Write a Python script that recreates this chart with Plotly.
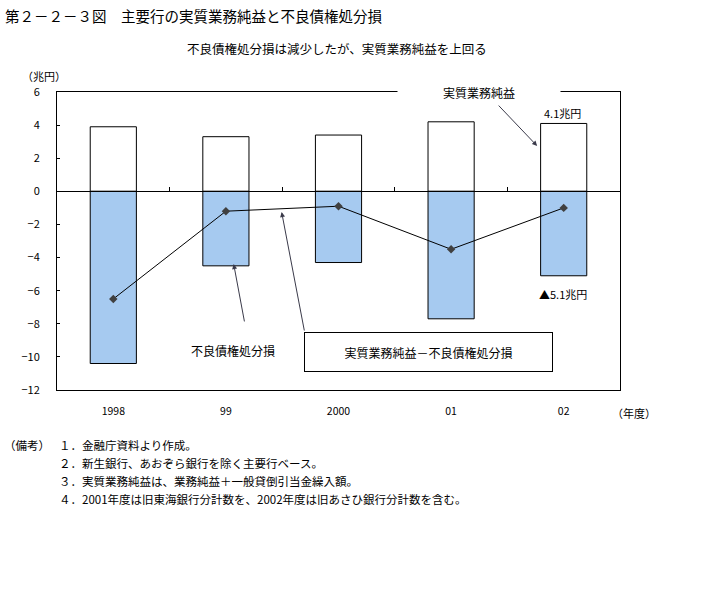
import plotly.graph_objects as go

# ---- data ----
years = ["1998", "99", "2000", "01", "02"]
jisshitsu_gyomu_junneki = [3.9, 3.3, 3.4, 4.2, 4.1]      # 実質業務純益 (兆円)
furyo_saiken_shobunson = [-10.4, -4.5, -4.3, -7.7, -5.1]  # 不良債権処分損 (兆円)
difference = [-6.5, -1.2, -0.9, -3.5, -1.0]              # 実質業務純益－不良債権処分損
y_ticks = [6, 4, 2, 0, -2, -4, -6, -8, -10, -12]

FONT = "Noto Sans CJK JP"
xs = list(range(len(years)))

fig = go.Figure()
fig.add_trace(go.Bar(
    x=xs, y=jisshitsu_gyomu_junneki, width=0.41,
    marker=dict(color="white", line=dict(color="black", width=1)),
    showlegend=False, hoverinfo="skip"))
fig.add_trace(go.Bar(
    x=xs, y=furyo_saiken_shobunson, width=0.41,
    marker=dict(color="#A6CAF0", line=dict(color="black", width=1)),
    showlegend=False, hoverinfo="skip"))
fig.add_trace(go.Scatter(
    x=xs, y=difference, xaxis="x2", mode="lines+markers",
    line=dict(color="black", width=1),
    marker=dict(symbol="diamond", size=6.5, color="#404040"),
    showlegend=False, hoverinfo="skip"))

ann = []
def A(text, x, y, xref="x", yref="y", size=12, xanchor="center", **kw):
    d = dict(text=text, x=x, y=y, xref=xref, yref=yref, showarrow=False,
             font=dict(family=FONT, size=size, color="black"),
             xanchor=xanchor, yanchor="middle")
    d.update(kw)
    ann.append(d)

def px2xp(px):
    return (px - 57) / 563.0

def py2yp(py):
    return (390 - py) / 298.0

# titles and notes
A("第２－２－３図　主要行の実質業務純益と不良債権処分損", px2xp(3), py2yp(15), "paper", "paper", size=14.5, xanchor="left")
A("不良債権処分損は減少したが、実質業務純益を上回る", px2xp(337), py2yp(48), "paper", "paper", size=12.5)
A("（兆円）", px2xp(44), py2yp(76), "paper", "paper", size=11)
A("（年度）", px2xp(634), py2yp(413), "paper", "paper", size=11)
A("（備考）", px2xp(2), py2yp(445), "paper", "paper", size=11.5, xanchor="left")
notes = ["１．金融庁資料より作成。",
         "２．新生銀行、あおぞら銀行を除く主要行ベース。",
         "３．実質業務純益は、業務純益＋一般貸倒引当金繰入額。",
         "４．2001年度は旧東海銀行分計数を、2002年度は旧あさひ銀行分計数を含む。"]
for i, t in enumerate(notes):
    A(t, px2xp(57), py2yp(445 + i * 18), "paper", "paper", size=11.5, xanchor="left")

# chart callouts
A("実質業務純益", 3.25, 6.0, size=12, width=162, bgcolor="white", borderpad=0)
A("4.1兆円", 3.99, 4.73, size=11)
A("▲5.1兆円", 3.99, -6.2, size=11)
A("不良債権処分損", 1.06, -9.64, size=12)
A("実質業務純益－不良債権処分損", 2.80, -9.70, size=12, width=247, height=38,
  bgcolor="white", bordercolor="black", borderwidth=1, borderpad=0)

arrows = [((3.41, 5.27), (3.764, 2.74)),
          ((1.167, -7.95), (1.069, -4.39)),
          ((1.699, -8.50), (1.495, -1.25))]
for (tx, ty), (hx, hy) in arrows:
    ann.append(dict(x=hx, y=hy, ax=tx, ay=ty, xref="x", yref="y", axref="x", ayref="y",
                    text="", showarrow=True, arrowhead=2, arrowsize=1, arrowwidth=1,
                    arrowcolor="#3a3a4a"))

fig.update_layout(
    width=720, height=589,
    margin=dict(l=57, r=100, t=92, b=199),
    paper_bgcolor="white", plot_bgcolor="white",
    barmode="overlay",
    font=dict(family=FONT, size=11, color="black"),
    xaxis=dict(range=[-0.5, 4.5], tickvals=xs, ticktext=years, showgrid=False,
               zeroline=False, showline=True, mirror=True, linecolor="black",
               linewidth=1, ticks="", ticklabelstandoff=11,
               tickfont=dict(family=FONT, size=10.5)),
    xaxis2=dict(range=[-0.5, 4.5], overlaying="x", anchor="free",
                position=12 / 18, side="bottom", showgrid=False, zeroline=False,
                showline=True, linecolor="black", linewidth=1,
                tickvals=[0.5, 1.5, 2.5, 3.5], ticks="inside", ticklen=4,
                tickcolor="black", showticklabels=False),
    yaxis=dict(range=[-12, 6], tickvals=y_ticks, showgrid=False, zeroline=False,
               showline=True, mirror=True, linecolor="black", linewidth=1,
               ticks="inside", ticklen=3, tickcolor="black", ticklabelstandoff=14,
               tickfont=dict(family=FONT, size=11)),
    annotations=ann,
    showlegend=False,
)

fig.write_html("out.html", config={"displayModeBar": False},
               post_script="document.body.style.margin='0px';document.body.style.overflow='hidden';")
